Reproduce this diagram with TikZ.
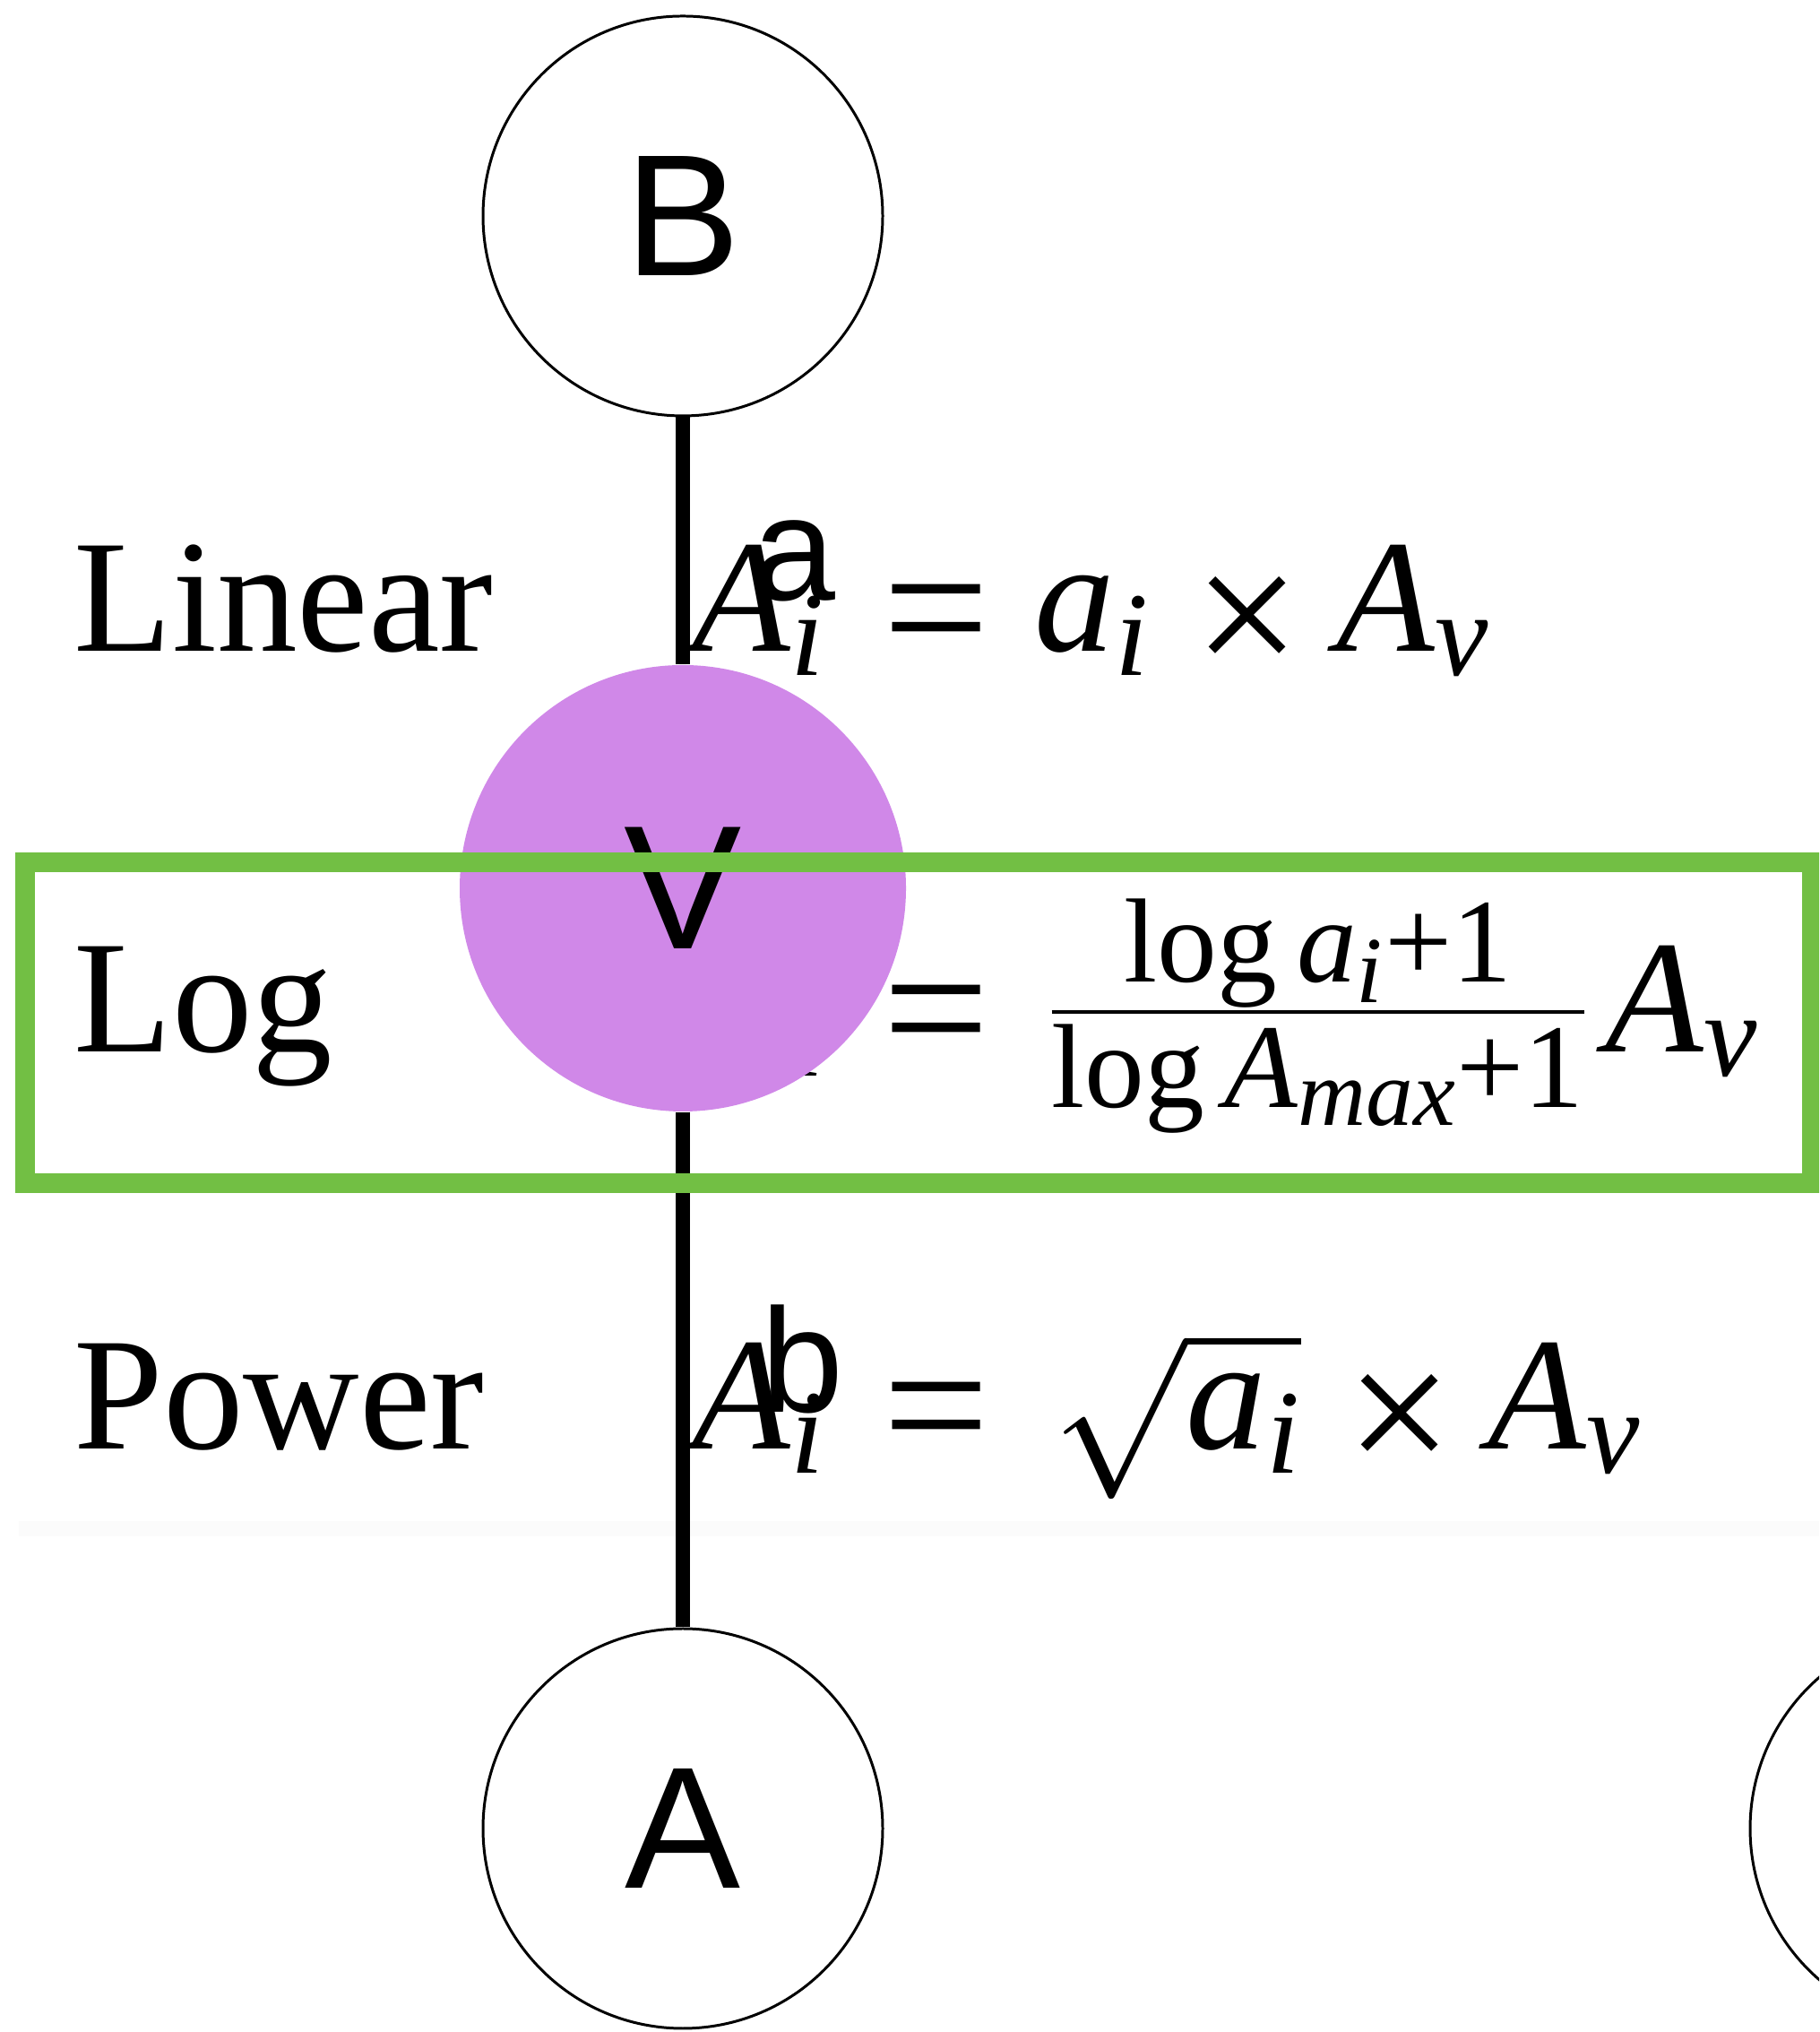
\RequirePackage{fix-cm}
\documentclass[tikz,border=0pt]{standalone}
\usepackage{amsmath}
\usepackage{fontspec}
\setmainfont{Liberation Serif}
\setsansfont{Liberation Sans}
\usepackage{xcolor}
\usepackage{tikz}
\usetikzlibrary{positioning}

\definecolor{hubpurple}{RGB}{208,136,232}
\definecolor{boxgreen}{RGB}{114,191,68}
\DeclareMathSizes{51}{51}{38}{30}
\newcommand{\mv}[1]{\text{\itshape #1}}
\newcommand{\sub}[2]{\mv{#1}_{\mv{#2}}}
\newcommand{\eq}{\mkern1.5mu\mathrel{\text{\fontsize{60}{60}\selectfont\raisebox{-6pt}{=}}}}
\newcommand{\by}{\mkern1mu\mathbin{\text{\fontsize{60}{60}\selectfont\raisebox{-8.5pt}{×}}}}
\newcommand{\plus}{\mathbin{\text{+}}}

\tikzset{
    vert/.style={circle, draw, line width=0.85pt, minimum size=4.46cm, inner sep=0pt,
        font=\sffamily\fontsize{55}{60}\selectfont},
    hub/.style={circle, fill=hubpurple, minimum size=4.98cm, inner sep=0pt,
        font=\sffamily\fontsize{56}{60}\selectfont},
    rowlabel/.style={anchor=base west, inner sep=0pt, font=\fontsize{51}{60}\selectfont},
    formula/.style={anchor=base west, inner sep=0pt, font=\fontsize{51}{60}\selectfont},
    link/.style={line width=4.3pt},
    edgelabel/.style={font=\sffamily\fontsize{47}{50}\selectfont, inner sep=0pt},
    framebox/.style={draw=boxgreen, line width=6.5pt}
}

\begin{document}
\begin{tikzpicture}
    \useasboundingbox (0,0) rectangle (20.3,22.67);
    \clip (0,0) rectangle (20.3,22.67);
    \fill[black!1.5] (0.21,5.53) rectangle (20.3,5.70);

    % scaling rows
    \foreach \name/\y in {Linear/15.40, Log/10.93, Power/6.50} {
        \node[rowlabel, name=lbl-\name] at (0.82,\y) {\name};
    }
    \node[formula] (linrow) at (7.72,15.40)
        {$\sub{A}{i} \eq \sub{a}{i} \by \sub{A}{v}$};
    \node[formula] (logrow) at (7.72,10.93)
        {$\sub{A}{i} \eq\mkern1.5mu \frac{\text{log}\,\sub{a}{i}\plus\text{1}}{\text{log}\,\sub{A}{max}\plus\text{1}}\mkern2mu\sub{A}{v}$};
    \node[formula] (powrow) at (7.72,6.50)
        {$\sub{A}{i} \eq\mkern2mu \sqrt{\sub{a}{i}}\by\sub{A}{v}$};

    % vertices
    \node[vert] (B) at (7.62,20.26) {B};
    \node[hub]  (V) at (7.62,12.76) {V};
    \node[vert] (A) at (7.62,2.27)  {A};
    \node[vert] (next) at (21.76,2.27) {};

    \draw[link] (B) -- (V) node[midway, edgelabel, xshift=12.4mm, yshift=-2.3mm] {a};
    \draw[link] (V) -- (A) node[midway, edgelabel, xshift=13.3mm, yshift=1.2mm] {b};

    \draw[framebox] (0.28,9.47) rectangle (20.22,13.05);
\end{tikzpicture}
\end{document}
